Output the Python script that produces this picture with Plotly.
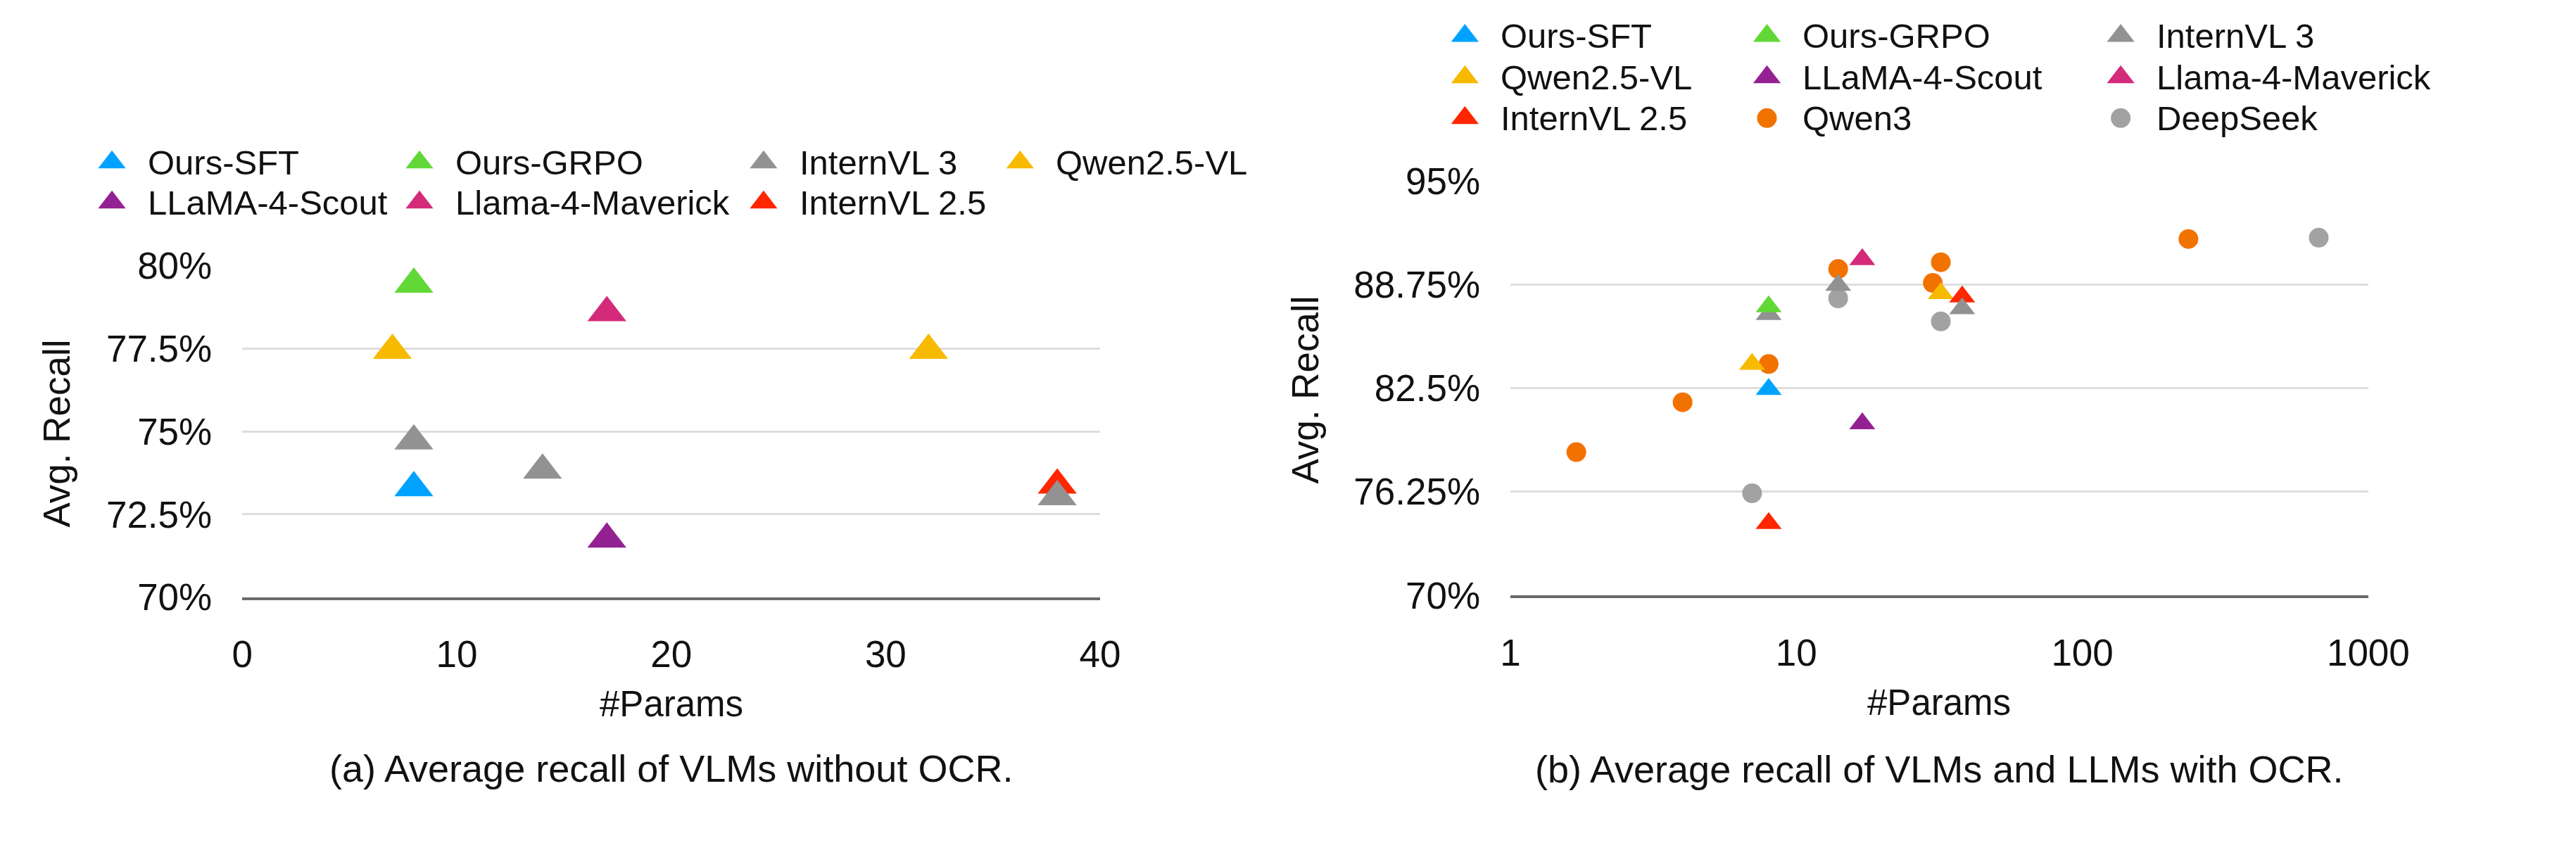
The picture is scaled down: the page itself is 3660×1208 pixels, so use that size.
import plotly.graph_objects as go

W, H = 3660, 1208
FONT = "Liberation Sans, Arial, Helvetica, sans-serif"

# ---------------- data: panel (a) VLMs without OCR ----------------
a_sft_x, a_sft_y = [8], [73.30]
a_grpo_x, a_grpo_y = [8], [79.43]
a_ivl3_x, a_ivl3_y = [8, 14, 38], [74.71, 73.83, 73.03]
a_qwvl_x, a_qwvl_y = [7, 32], [77.44, 77.44]
a_scout_x, a_scout_y = [17], [71.75]
a_mav_x, a_mav_y = [17], [78.57]
a_ivl25_x, a_ivl25_y = [38], [73.38]

# ---------------- data: panel (b) VLMs and LLMs with OCR ----------------
b_sft_x, b_sft_y = [8], [82.43]
b_grpo_x, b_grpo_y = [8], [87.42]
b_ivl3_x, b_ivl3_y = [8, 14, 38], [86.96, 88.72, 87.30]
b_qwvl_x, b_qwvl_y = [7, 32], [83.95, 88.22]
b_scout_x, b_scout_y = [17], [80.36]
b_mav_x, b_mav_y = [17], [90.27]
b_ivl25_x, b_ivl25_y = [8, 38], [74.34, 88.02]
b_qwen3_x, b_qwen3_y = [1.7, 4, 8, 14, 30, 32, 235], [78.64, 81.65, 83.96, 89.69, 88.85, 90.10, 91.50]
b_ds_x, b_ds_y = [7, 14, 32, 671], [76.16, 87.92, 86.53, 91.58]

# ---------------- ticks ----------------
a_xticks = [0, 10, 20, 30, 40]
a_yticks = [70, 72.5, 75, 77.5, 80]
a_yticklabels = ["70%", "72.5%", "75%", "77.5%", "80%"]
b_xticks = [1, 10, 100, 1000]
b_xticklabels = ["1", "10", "100", "1000"]
b_yticks = [70, 76.25, 82.5, 88.75, 95]
b_yticklabels = ["70%", "76.25%", "82.5%", "88.75%", "95%"]

# ---------------- styles ----------------
COLORS = {
    "Ours-SFT": "#00A2FF",
    "Ours-GRPO": "#61D836",
    "InternVL 3": "#929292",
    "Qwen2.5-VL": "#F8BA00",
    "LLaMA-4-Scout": "#942192",
    "Llama-4-Maverick": "#D42A7A",
    "InternVL 2.5": "#FF2600",
    "Qwen3": "#F27200",
    "DeepSeek": "#A2A2A2",
}
SYMBOL = {k: "triangle-up" for k in COLORS}
SYMBOL["Qwen3"] = "circle"
SYMBOL["DeepSeek"] = "circle"

panel_a = [  # drawing order
    ("Ours-SFT", a_sft_x, a_sft_y),
    ("Qwen2.5-VL", a_qwvl_x, a_qwvl_y),
    ("LLaMA-4-Scout", a_scout_x, a_scout_y),
    ("Llama-4-Maverick", a_mav_x, a_mav_y),
    ("InternVL 2.5", a_ivl25_x, a_ivl25_y),
    ("InternVL 3", a_ivl3_x, a_ivl3_y),
    ("Ours-GRPO", a_grpo_x, a_grpo_y),
]
panel_b = [
    ("Qwen3", b_qwen3_x, b_qwen3_y),
    ("DeepSeek", b_ds_x, b_ds_y),
    ("Ours-SFT", b_sft_x, b_sft_y),
    ("Qwen2.5-VL", b_qwvl_x, b_qwvl_y),
    ("LLaMA-4-Scout", b_scout_x, b_scout_y),
    ("Llama-4-Maverick", b_mav_x, b_mav_y),
    ("InternVL 2.5", b_ivl25_x, b_ivl25_y),
    ("InternVL 3", b_ivl3_x, b_ivl3_y),
    ("Ours-GRPO", b_grpo_x, b_grpo_y),
]

legend_a_rows = [["Ours-SFT", "Ours-GRPO", "InternVL 3", "Qwen2.5-VL"],
                 ["LLaMA-4-Scout", "Llama-4-Maverick", "InternVL 2.5"]]
legend_b_rows = [["Ours-SFT", "Ours-GRPO", "InternVL 3"],
                 ["Qwen2.5-VL", "LLaMA-4-Scout", "Llama-4-Maverick"],
                 ["InternVL 2.5", "Qwen3", "DeepSeek"]]

# layout (pixels)
A_LEFT, A_RIGHT, A_TOP, A_BOTTOM = 336, 1580, 366, 862
B_LEFT, B_RIGHT, B_TOP, B_BOTTOM = 2175, 3419, 240, 859
LEG_A_COLX, LEG_A_ROWY = [147, 593, 1092, 1464], [212, 272]
LEG_B_COLX, LEG_B_ROWY = [2109, 2547, 3060], [23, 85, 146]
LEG_TEXT_GAP = 50

fig = go.Figure()

def size_for(name, triangle_size, circle_size):
    return circle_size if SYMBOL[name] == "circle" else triangle_size

for name, xs, ys in panel_a:
    fig.add_trace(go.Scatter(
        x=xs, y=ys, mode="markers", name=name, xaxis="x", yaxis="y",
        showlegend=False, cliponaxis=False,
        marker=dict(symbol=SYMBOL[name], color=COLORS[name], size=48, line=dict(width=0)),
    ))

for name, xs, ys in panel_b:
    fig.add_trace(go.Scatter(
        x=xs, y=ys, mode="markers", name=name, xaxis="x2", yaxis="y2",
        showlegend=False, cliponaxis=False,
        marker=dict(symbol=SYMBOL[name], color=COLORS[name],
                    size=size_for(name, 32, 28), line=dict(width=0)),
    ))

annotations = []

def add_legend(rows, colx, rowy):
    for r, row in enumerate(rows):
        for c, name in enumerate(row):
            fig.add_trace(go.Scatter(
                x=[colx[c]], y=[rowy[r]], mode="markers", xaxis="x3", yaxis="y3",
                showlegend=False, hoverinfo="skip", cliponaxis=False,
                marker=dict(symbol=SYMBOL[name], color=COLORS[name],
                            size=size_for(name, 34, 28), line=dict(width=0)),
            ))
            annotations.append(dict(
                x=colx[c] + LEG_TEXT_GAP, y=rowy[r], xref="x3", yref="y3",
                text=name, showarrow=False, xanchor="left", yanchor="middle",
                font=dict(family=FONT, size=49, color="#111111"),
            ))

add_legend(legend_a_rows, LEG_A_COLX, LEG_A_ROWY)
add_legend(legend_b_rows, LEG_B_COLX, LEG_B_ROWY)

def txt(x, y, text, size, angle=0):
    annotations.append(dict(
        x=x, y=y, xref="x3", yref="y3", text=text, showarrow=False,
        xanchor="center", yanchor="middle", textangle=angle,
        font=dict(family=FONT, size=size, color="#111111"),
    ))

txt(67, (A_TOP + A_BOTTOM) / 2 + 3, "Avg. Recall", 53, -90)
txt(1877, (B_TOP + B_BOTTOM) / 2 + 3, "Avg. Recall", 53, -90)
txt((A_LEFT + A_RIGHT) / 2, 1021, "#Params", 51)
txt((B_LEFT + B_RIGHT) / 2, 1019, "#Params", 51)
txt((A_LEFT + A_RIGHT) / 2, 1118, "(a) Average recall of VLMs without OCR.", 54)
txt((B_LEFT + B_RIGHT) / 2, 1119, "(b) Average recall of VLMs and LLMs with OCR.", 54)

tickfont = dict(family=FONT, size=53, color="#111111")
common_x = dict(showgrid=False, zeroline=False, showline=True, linecolor="#6b6b6b",
                linewidth=4, ticks="", tickfont=tickfont, ticklabelstandoff=32,
                fixedrange=True)
common_y = dict(showgrid=True, gridcolor="#dedede", gridwidth=2.5, zeroline=False,
                showline=False, ticks="", tickfont=tickfont, ticklabelstandoff=42,
                fixedrange=True)

fig.update_layout(
    width=W, height=H,
    margin=dict(l=0, r=0, t=0, b=0),
    paper_bgcolor="white", plot_bgcolor="rgba(0,0,0,0)",
    showlegend=False,
    font=dict(family=FONT, color="#111111"),
    xaxis=dict(domain=[A_LEFT / W, A_RIGHT / W], range=[0, 40], tickvals=a_xticks,
               anchor="y", **common_x),
    yaxis=dict(domain=[(H - A_BOTTOM) / H, (H - A_TOP) / H], range=[70, 80],
               tickvals=a_yticks, ticktext=a_yticklabels, anchor="x", **common_y),
    xaxis2=dict(domain=[B_LEFT / W, B_RIGHT / W], type="log", range=[0, 3],
                tickvals=b_xticks, ticktext=b_xticklabels, anchor="y2", **common_x),
    yaxis2=dict(domain=[(H - B_BOTTOM) / H, (H - B_TOP) / H], range=[70, 95],
                tickvals=b_yticks, ticktext=b_yticklabels, anchor="x2", **common_y),
    xaxis3=dict(domain=[0, 1], range=[0, W], visible=False, fixedrange=True, anchor="y3"),
    yaxis3=dict(domain=[0, 1], range=[H, 0], visible=False, fixedrange=True, anchor="x3"),
    annotations=annotations,
)

fig.write_html("out.html")
